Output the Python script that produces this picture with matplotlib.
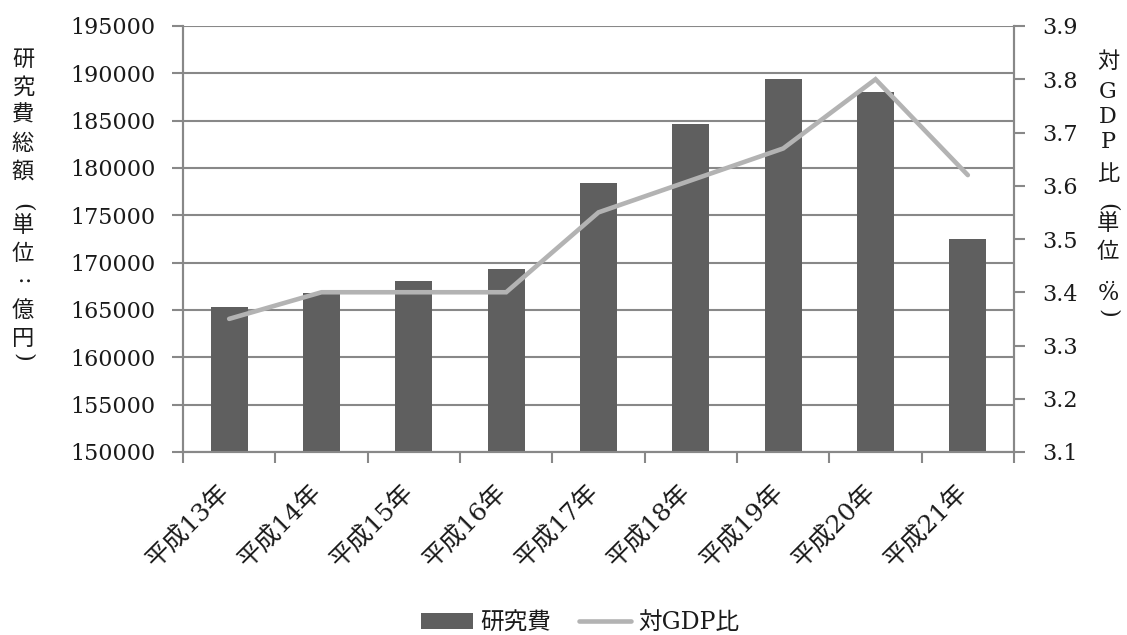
import matplotlib
matplotlib.use("Agg")
import matplotlib.pyplot as plt
from matplotlib.patches import Patch
from matplotlib.lines import Line2D
from matplotlib.transforms import ScaledTranslation
import numpy as np

plt.rcParams['font.family'] = ['DejaVu Serif', 'Noto Sans CJK JP']

categories = ['平成13年', '平成14年', '平成15年', '平成16年', '平成17年',
              '平成18年', '平成19年', '平成20年', '平成21年']
research_cost = [165280, 166751, 168042, 169376, 178452, 184631, 189438, 188001, 172463]
gdp_ratio = [3.35, 3.40, 3.40, 3.40, 3.55, 3.61, 3.67, 3.80, 3.62]
left_ticks = [150000, 155000, 160000, 165000, 170000, 175000, 180000, 185000, 190000, 195000]
right_ticks = [3.1, 3.2, 3.3, 3.4, 3.5, 3.6, 3.7, 3.8, 3.9]
left_label = ['研', '究', '費', '総', '額', '（', '単', '位', '：', '億', '円', '）']
right_label = ['対', 'G', 'D', 'P', '比', '（', '単', '位', '%', '）']

bar_color = '#5f5f5f'
line_color = '#b3b3b3'
axis_color = '#888888'
text_color = '#1a1a1a'

W, H = 1127, 635
fig = plt.figure(figsize=(W/100, H/100), dpi=100)
ax = fig.add_axes([183/W, 1-452/H, (1014-183)/W, (452-26)/H])
ax2 = ax.twinx()

x = np.arange(len(categories))
ax.bar(x, research_cost, width=0.4, color=bar_color, zorder=3)
ax.set_ylim(150000, 195000)
ax.set_xlim(-0.5, len(categories)-0.5)
ax.set_yticks(left_ticks)
ax.set_yticklabels([str(v) for v in left_ticks], fontsize=16, color=text_color)
ax.grid(axis='y', color=axis_color, linewidth=1.5, zorder=0)
ax.set_axisbelow(True)

# x ticks at category boundaries, labels at centres
ax.set_xticks(np.arange(-0.5, len(categories)+0.5, 1.0))
ax.set_xticklabels([])
ax.set_xticks(x, minor=True)
ax.set_xticklabels(categories, minor=True, rotation=45, ha='right',
                   rotation_mode='anchor', fontsize=18, color=text_color)
ax.tick_params(axis='x', which='minor', length=0, pad=20)
ax.tick_params(axis='x', which='major', length=8, color=axis_color, width=1.5, direction='out')
ax.tick_params(axis='y', length=8, color=axis_color, width=1.5, direction='out', pad=12)
shift = ScaledTranslation(-12/100, 0, fig.dpi_scale_trans)
for lab in ax.get_xticklabels(minor=True):
    lab.set_transform(lab.get_transform() + shift)

ax2.plot(x, gdp_ratio, color=line_color, linewidth=3.3, solid_capstyle='round',
         solid_joinstyle='miter', zorder=4)
ax2.set_ylim(3.1, 3.9)
ax2.set_yticks(right_ticks)
ax2.set_yticklabels([f'{v:.1f}' for v in right_ticks], fontsize=16, color=text_color)
ax2.tick_params(axis='y', length=8, color=axis_color, width=1.5, direction='out', pad=12)

for a in (ax, ax2):
    a.spines['top'].set_visible(False)
    for s in ('left', 'right', 'bottom'):
        a.spines[s].set_color(axis_color)
        a.spines[s].set_linewidth(1.5)


def vchar(ch, px, py, size=16):
    """Draw one character of a vertical (tategaki) label at pixel position."""
    kw = dict(ha='center', va='center', color=text_color, fontsize=size)
    if ch in '（）':
        fig.text(px/W, 1-py/H, '(' if ch == '（' else ')', rotation=-90,
                 family='DejaVu Serif', **kw)
    elif ch == '：':
        fig.text(px/W, 1-py/H, ':', rotation=-90, family='DejaVu Serif', **kw)
    else:
        fig.text(px/W, 1-py/H, ch, **kw)


# left vertical label: uniform 28 px steps, brackets drawn as arches
left_y = [60, 88, 116, 144, 172, 207, 226, 254, 282, 311, 339, 357]
for ch, py in zip(left_label, left_y):
    vchar(ch, 23, py)

# right vertical label
right_y = [62, 92, 117, 142, 174, 207, 224, 252, 294, 313]
for ch, py in zip(right_label, right_y):
    vchar(ch, 1108, py)
vchar('：', 1108, 282, size=13)

handles = [Patch(facecolor=bar_color, edgecolor='none'),
           Line2D([0], [0], color=line_color, linewidth=3.3, solid_capstyle='round')]
fig.legend(handles, ['研究費', '対GDP比'], loc='center', bbox_to_anchor=(0.515, 0.019),
           ncol=2, frameon=False, fontsize=17, handlelength=2.2, handletextpad=0.3,
           columnspacing=1.2, handleheight=0.65, labelcolor=text_color)

fig.savefig('out.png', dpi=100)
